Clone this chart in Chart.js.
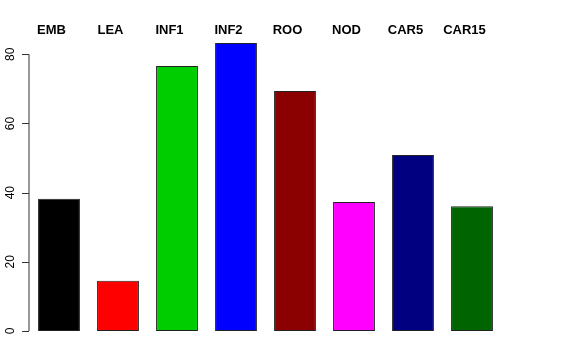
<!DOCTYPE html>
<html>
<head>
<meta charset="utf-8">
<script src="https://cdn.jsdelivr.net/npm/chart.js@4"></script>
<style>
  html, body { margin: 0; padding: 0; background: #fff; }
  #wrap { width: 576px; height: 360px; }
</style>
</head>
<body>
<div id="wrap"><canvas id="chart" width="576" height="360"></canvas></div>
<script>
const categories = ['EMB', 'LEA', 'INF1', 'INF2', 'ROO', 'NOD', 'CAR5', 'CAR15'];
const values = [38.2, 14.5, 76.6, 83.3, 69.4, 37.3, 50.9, 36.1];
const barColors = ['#000000', '#FF0000', '#00CD00', '#0000FF', '#8B0000', '#FF00FF', '#000080', '#006400'];
const yTicks = [0, 20, 40, 60, 80];

// R-style axis and labels drawn by hand
const rAxis = {
  id: 'rAxis',
  afterDraw(chart) {
    const ctx = chart.ctx;
    const x = chart.scales.x;
    const y = chart.scales.y;
    const axisX = chart.chartArea.left - 0.5;
    ctx.save();
    ctx.strokeStyle = '#333';
    ctx.lineWidth = 1;
    ctx.beginPath();
    ctx.moveTo(axisX, y.getPixelForValue(yTicks[0]));
    ctx.lineTo(axisX, y.getPixelForValue(yTicks[yTicks.length - 1]));
    yTicks.forEach(t => {
      const py = Math.round(y.getPixelForValue(t)) + 0.5;
      ctx.moveTo(axisX, py);
      ctx.lineTo(axisX - 7, py);
    });
    ctx.stroke();

    ctx.fillStyle = '#000';
    ctx.font = '12px "Liberation Sans", Arial, sans-serif';
    ctx.textAlign = 'center';
    ctx.textBaseline = 'middle';
    yTicks.forEach(t => {
      ctx.save();
      ctx.translate(11, y.getPixelForValue(t));
      ctx.rotate(-Math.PI / 2);
      ctx.fillText(String(t), 0, 0);
      ctx.restore();
    });

    ctx.font = 'bold 13px "Liberation Sans", Arial, sans-serif';
    ctx.textBaseline = 'alphabetic';
    categories.forEach((c, i) => {
      ctx.fillText(c, x.getPixelForValue(i) - 7.5, 34);
    });
    ctx.restore();
  }
};

new Chart(document.getElementById('chart').getContext('2d'), {
  type: 'bar',
  data: {
    labels: categories,
    datasets: [{
      data: values,
      backgroundColor: barColors,
      borderColor: '#222',
      borderWidth: 1,
      borderSkipped: false,
      barPercentage: 0.71,
      categoryPercentage: 1
    }]
  },
  options: {
    responsive: false,
    animation: false,
    layout: { padding: { left: 29.5, right: 74.5, top: 37, bottom: 29 } },
    plugins: { legend: { display: false }, tooltip: { enabled: false } },
    scales: {
      x: { display: false },
      y: { display: false, min: 0, max: 85 }
    }
  },
  plugins: [rAxis]
});
</script>
</body>
</html>
